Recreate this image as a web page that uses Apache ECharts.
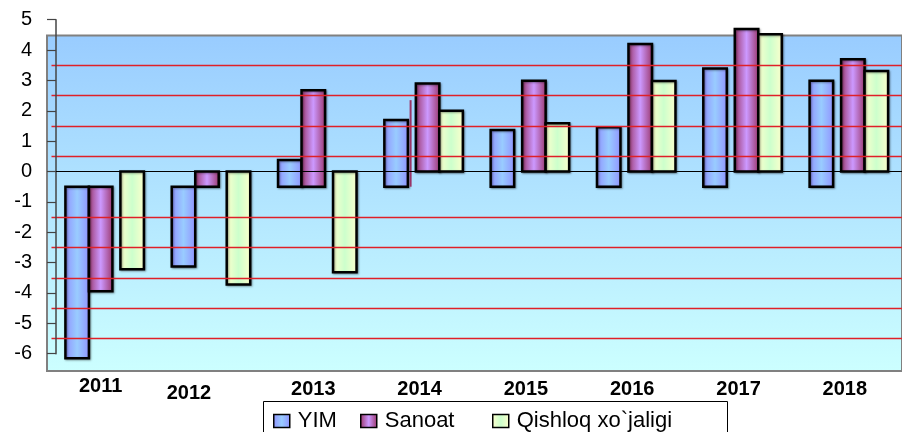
<!DOCTYPE html>
<html>
<head>
<meta charset="utf-8">
<script src="https://cdn.jsdelivr.net/npm/echarts@6/dist/echarts.min.js"></script>
<style>
    html, body { margin: 0; padding: 0; background: #fff; }
    #chart { width: 902px; height: 432px; }
</style>
</head>
<body>
<div id="chart"></div>
<script>
    // data
    var years = ['2011', '2012', '2013', '2014', '2015', '2016', '2017', '2018'];
    var yimLow = [-0.5, -0.5, -0.5, -0.5, -0.5, -0.5, -0.5, -0.5];
    var yimHigh = [-6.15, -3.13, 0.38, 1.70, 1.37, 1.46, 3.39, 2.99];
    var sanoatLow = [-0.5, 0, -0.5, 0, 0, 0, 0, 0];
    var sanoatHigh = [-3.94, -0.5, 2.68, 2.9, 2.99, 4.2, 4.69, 3.7];
    var qishloqLow = [0, 0, 0, 0, 0, 0, 0, 0];
    var qishloqHigh = [-3.22, -3.72, -3.32, 2.0, 1.59, 2.98, 4.52, 3.31];
    var sliver = [[3, -0.5, 2.35]]; // stray thin line near 2014
    var yTicks = [-6, -5, -4, -3, -2, -1, 0, 1, 2, 3, 4, 5];
    var redLevels = [3.5, 2.5, 1.5, 0.5, -1.5, -2.5, -3.5, -4.5, -5.5];

    var font = "'Liberation Sans', Arial, sans-serif";
    var barW = 23.5;

    function grad(edge, mid) {
        return new echarts.graphic.LinearGradient(0, 0, 1, 0, [
            {offset: 0, color: edge},
            {offset: 0.5, color: mid},
            {offset: 1, color: edge}
        ]);
    }
    var fills = {
        YIM: ['#9090ff', '#99ccff'],
        Sanoat: ['#993366', '#cc99ff'],
        'Qishloq xo`jaligi': ['#ffffcc', '#ccffcc']
    };

    // x offset of each bar from category centre (Excel layout shifts after 2013)
    function offsetOf(name, ci) {
        if (name === 'YIM') return -39.25;
        if (name === 'Sanoat') return ci < 3 ? -15.75 : -7.75;
        return 15.75;
    }

    function toItems(low, high) {
        return years.map(function (y, i) { return [i, low[i], high[i]]; });
    }

    function makeRender(name) {
        return function (params, api) {
            var ci = api.value(0);
            var p0 = api.coord([ci, api.value(1)]);
            var p1 = api.coord([ci, api.value(2)]);
            var f = fills[name];
            return {
                type: 'rect',
                shape: {
                    x: p0[0] + offsetOf(name, ci),
                    y: Math.min(p0[1], p1[1]),
                    width: barW,
                    height: Math.abs(p1[1] - p0[1])
                },
                style: {
                    fill: grad(f[0], f[1]),
                    stroke: '#000',
                    lineWidth: 2.5,
                    shadowColor: 'rgba(0,0,0,0.35)',
                    shadowBlur: 2,
                    shadowOffsetX: 1,
                    shadowOffsetY: 1
                }
            };
        };
    }

    function barSeries(name, low, high) {
        return {
            name: name,
            type: 'custom',
            xAxisIndex: 1,
            yAxisIndex: 1,
            z: 3,
            renderItem: makeRender(name),
            itemStyle: {color: fills[name][1]},
            encode: {x: 0, y: [1, 2]},
            data: toItems(low, high)
        };
    }

    function legendFor(name, left) {
        var f = fills[name];
        return {
            data: [name],
            left: left,
            top: 410,
            padding: 0,
            icon: 'rect',
            itemWidth: 16,
            itemHeight: 13,
            selectedMode: false,
            itemStyle: {color: grad(f[0], f[1]), borderColor: '#000', borderWidth: 1.5},
            textStyle: {fontFamily: font, fontSize: 22, color: '#000', padding: [0, 0, 0, 3], lineHeight: 20}
        };
    }

    var chart = echarts.init(document.getElementById('chart'));
    var option = {
        animation: false,
        backgroundColor: '#fff',
        grid: [
            { // plot background
                left: 47, top: 35.5, right: -3, height: 335.5,
                show: true,
                backgroundColor: new echarts.graphic.LinearGradient(0, 0, 0, 1, [
                    {offset: 0, color: '#99ccff'},
                    {offset: 1, color: '#ccffff'}
                ]),
                borderColor: '#808080',
                borderWidth: 2
            },
            {left: 51.5, right: -5.5, top: 19.7, height: 334},
            {left: 56, right: -10, top: 19.7, height: 334}
        ],
        xAxis: [
            {gridIndex: 0, type: 'value', show: false},
            {
                gridIndex: 1, type: 'category',
                data: years.map(function (y, i) {
                    var pad = [3, 8, 0, 0];
                    if (i === 0) pad = [0, 8, 0, 0];
                    if (i === 1) pad = [7, 44, 0, 0];
                    return {value: y, textStyle: {padding: pad}};
                }),
                axisLine: {show: false},
                axisTick: {show: false},
                axisLabel: {
                    interval: 0, margin: 23,
                    fontFamily: font, fontSize: 20, fontWeight: 'bold', color: '#000'
                }
            },
            {
                gridIndex: 2, type: 'category', z: 6,
                data: ['', '', '', '', '', '', '', '', '', '', '', '', '', '', '', ''],
                axisLine: {onZero: true, lineStyle: {color: '#000', width: 1.2}},
                axisTick: {interval: 0, length: 5, lineStyle: {color: '#222', width: 1.2}},
                axisLabel: {show: false}
            }
        ],
        yAxis: [
            {gridIndex: 0, type: 'value', show: false},
            {gridIndex: 1, type: 'value', min: -6, max: 5, show: false},
            {
                gridIndex: 2, type: 'value', z: 6,
                min: yTicks[0], max: yTicks[yTicks.length - 1], interval: 1,
                axisLine: {show: true, lineStyle: {color: '#444', width: 1.5}},
                axisTick: {show: true, length: 9, lineStyle: {color: '#444', width: 1.2}},
                splitLine: {show: false},
                axisLabel: {margin: 24, fontFamily: font, fontSize: 20, color: '#000'}
            }
        ],
        legend: [
            legendFor('YIM', 273),
            legendFor('Sanoat', 360),
            legendFor('Qishloq xo`jaligi', 492)
        ],
        graphic: [{
            type: 'rect',
            shape: {x: 263.5, y: 401.5, width: 464, height: 40},
            style: {fill: 'none', stroke: '#000', lineWidth: 1},
            z: 1
        }],
        series: [
            {
                type: 'line',
                xAxisIndex: 1,
                yAxisIndex: 1,
                z: 1,
                data: [],
                markLine: {
                    silent: true,
                    symbol: 'none',
                    label: {show: false},
                    lineStyle: {color: '#e02028', width: 1.3, type: 'solid'},
                    data: redLevels.map(function (v) { return {yAxis: v}; })
                }
            },
            barSeries('YIM', yimLow, yimHigh),
            barSeries('Sanoat', sanoatLow, sanoatHigh),
            barSeries('Qishloq xo`jaligi', qishloqLow, qishloqHigh),
            {
                type: 'custom',
                xAxisIndex: 1,
                yAxisIndex: 1,
                z: 3,
                renderItem: function (params, api) {
                    var ci = api.value(0);
                    var p0 = api.coord([ci, api.value(1)]);
                    var p1 = api.coord([ci, api.value(2)]);
                    return {
                        type: 'rect',
                        shape: {x: p0[0] - 14, y: Math.min(p0[1], p1[1]), width: 2, height: Math.abs(p1[1] - p0[1])},
                        style: {fill: '#993366'}
                    };
                },
                data: sliver
            }
        ]
    };
    chart.setOption(option);
</script>
</body>
</html>
